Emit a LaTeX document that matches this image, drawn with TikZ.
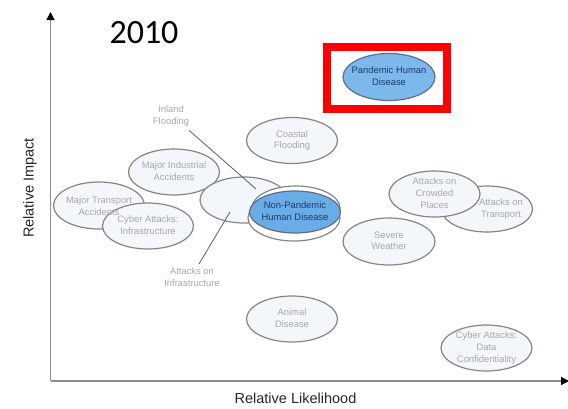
\documentclass[tikz,border=0pt]{standalone}
\usepackage{fontspec}
\setmainfont{Liberation Sans}
\newfontfamily\yearfont{Carlito}
\usetikzlibrary{shapes.geometric,arrows.meta}
\definecolor{ellfill}{HTML}{F3F7FB}
\definecolor{elldraw}{HTML}{858585}
\definecolor{elltext}{HTML}{A8A8A8}
\definecolor{bluefill}{HTML}{7DB8EC}
\definecolor{bluefilltwo}{HTML}{6AADE6}
\definecolor{bluedraw}{HTML}{5F6F86}
\definecolor{bluetext}{HTML}{1E3A6E}
\definecolor{axiscol}{HTML}{8E8E8E}
\definecolor{linkcol}{HTML}{6A6A6A}
\newcommand{\elltxt}[1]{\makebox[0pt]{\raisebox{-0.25em}[0pt][0pt]{\begin{tabular}{@{}c@{}}#1\end{tabular}}}}
\begin{document}
\begin{tikzpicture}[x=1pt,y=-1pt,
  risk/.style={ellipse,draw=elldraw,fill=ellfill,line width=1.2pt,inner sep=0pt,
    minimum width=91pt,minimum height=46pt,text=elltext,
    font=\fontsize{9.4}{11.8}\selectfont},
  hot/.style={risk,fill=bluefill,draw=bluedraw,text=bluetext},
  lbl/.style={align=center,text=elltext,inner sep=0pt,font=\fontsize{9.4}{11.8}\selectfont},
  link/.style={draw=linkcol,line width=0.9pt},
  axis/.style={draw=axiscol,line width=1.3pt,-{Triangle[black,length=8pt,width=8pt]}}]
\useasboundingbox (0,0) rectangle (568,408);
% axes
\coordinate (origin) at (50.5,381);
\coordinate (ytip) at (50.5,12);
\coordinate (xtip) at (569,381);
\draw[axis] (origin) -- (ytip);
\draw[axis] (origin) -- (xtip);
\node[rotate=90,font=\fontsize{14.5}{17}\selectfont,text=black!85] (ylab) at (30,188) {Relative Impact};
\node[font=\fontsize{14.5}{17}\selectfont,text=black!85] (xlab) at (295.5,398) {Relative Likelihood};
% year
\node[font=\yearfont\fontsize{34}{40}\selectfont] (year) at (144,33) {2010};
% highlighted
\node[draw=red,line width=8pt,minimum width=120pt,minimum height=62pt,inner sep=0pt] (hl) at (387,78) {};
\node[hot,minimum width=92pt,minimum height=47pt] (pandemic) at (389,77) {\elltxt{Pandemic Human\\Disease}};
% gray risks
\node[risk] (coastal) at (292,140.5) {\elltxt{Coastal\\Flooding}};
\node[risk] (industrial) at (174,172) {\elltxt{Major Industrial\\Accidents}};
\node[risk,minimum height=47pt] (transport) at (99,205.5) {};
\node[risk] (cyberinf) at (148,226) {\elltxt{Cyber Attacks:\\Infrastructure}};
\node[lbl,yshift=-0.5pt] (transporttxt) at (transport) {Major Transport\\Accidents};
\node[risk,minimum width=88pt] (infra) at (244,200) {};
\node[risk,fill=white,minimum width=92pt] (npdback) at (294,218) {};
\node[risk,fill=white,minimum width=88pt,minimum height=44pt] (npdmid) at (296,208) {};
\node[hot,fill=bluefilltwo,minimum width=91pt,minimum height=42pt] (npd) at (295,212) {\elltxt{Non-Pandemic\\Human Disease}};
\node[risk,minimum width=92pt,minimum height=47pt] (weather) at (389,241.5) {\elltxt{Severe\\Weather}};
\node[risk] (atransport) at (487,209) {\hspace*{28pt}\elltxt{Attacks on\\Transport}};
\node[risk] (crowded) at (434.5,194) {\elltxt{Attacks on\\Crowded\\Places}};
\node[risk] (animal) at (292,319) {\elltxt{Animal\\Disease}};
\node[risk] (cyberdata) at (486.5,348) {\elltxt{Cyber Attacks:\\Data\\Confidentiality}};
% free labels
\node[lbl] (inland) at (171,116) {Inland\\Flooding};
\node[lbl] (attinf) at (192,277.5) {Attacks on\\Infrastructure};
\coordinate (inlandend) at (256,189);
\coordinate (attinfend) at (230,212);
\draw[link] (inland.south east) ++(0,4) coordinate (inlandstart) -- (inlandend);
\draw[link] (attinf.north) ++(7,-4) coordinate (attinfstart) -- (attinfend);
\end{tikzpicture}
\end{document}
